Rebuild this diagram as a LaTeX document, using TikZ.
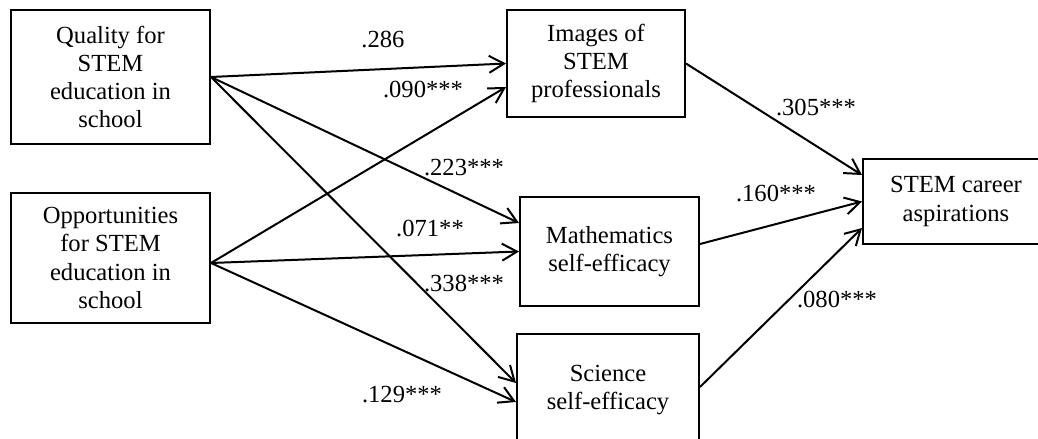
\documentclass[tikz,border=0pt]{standalone}
\usepackage{fontspec}
\setmainfont{Liberation Serif}
\usetikzlibrary{arrows.meta,calc,positioning}

\begin{document}
\begin{tikzpicture}[x=0.02cm, y=-0.02cm, line width=0.04cm,
    >={Straight Barb[length=0.3cm,width=0.34cm]},
    var/.style={draw, align=center, inner sep=0pt, font=\fontsize{14}{16}\selectfont},
    coef/.style={inner sep=0pt, font=\fontsize{14}{16}\selectfont}]
  \clip (0,0) rectangle (1038,439);

  \node[var, minimum width=3.98cm, minimum height=2.68cm] (quality) at (110.5,77) {Quality for\\STEM\\education in\\school};
  \node[var, minimum width=3.98cm, minimum height=2.6cm] (opp) at (110.5,258) {Opportunities\\for STEM\\education in\\school};

  \node[var, minimum width=3.56cm, minimum height=2.14cm] (images) at (596,63.5) {Images of\\STEM\\professionals};
  \node[var, minimum width=3.58cm, minimum height=2.18cm] (math) at (609.5,251.5) {Mathematics\\self-efficacy};
  \node[var, minimum width=3.64cm, minimum height=2.24cm] (science) at (608,390) {Science\\self-efficacy};

  \node[var, minimum width=3.72cm, minimum height=1.7cm] (career) at (956,201.5) {STEM career\\aspirations};

  \coordinate (oppout) at ($(opp.east)+(0,5)$);

  \draw[->] (quality.east) to (images.west);
  \draw[->] (quality.east) to ($(math.west)+(0,-28.5)$);
  \draw[->] (quality.east) to ($(science.west)+(0,-7)$);

  \draw[->] (oppout) to ($(images.west)+(0,23.5)$);
  \draw[->] (oppout) to (math.west);
  \draw[->] (oppout) to ($(science.west)+(0,12)$);

  \draw[->] (images.east) to ($(career.west)+(0,-26.5)$);
  \draw[->] ($(math.east)+(0,-7.5)$) to (career.west);
  \draw[->] ($(science.east)+(0,-3)$) to ($(career.west)+(0,26.5)$);

  \node[coef] (qi) at (383,39) {.286};
  \node[coef] (oi) at (423,89) {.090***};
  \node[coef] (qm) at (464,168) {.223***};
  \node[coef] (om) at (430,228) {.071**};
  \node[coef] (qs) at (464,283) {.338***};
  \node[coef] (os) at (402,395) {.129***};
  \node[coef] (ic) at (816,107) {.305***};
  \node[coef] (mc) at (776,193) {.160***};
  \node[coef] (sc) at (837,299) {.080***};
\end{tikzpicture}
\end{document}
